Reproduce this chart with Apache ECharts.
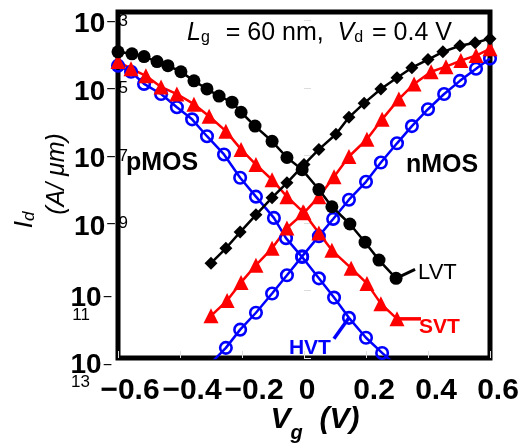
<!DOCTYPE html>
<html><head><meta charset="utf-8">
<script src="https://cdn.jsdelivr.net/npm/echarts@6/dist/echarts.min.js"></script>
<style>html,body{margin:0;padding:0;background:#fff}#c{width:526px;height:443px}</style>
</head><body><div id="c"></div>
<script>
// Bottom of the y axis, as log10(Id) in A/um; y values are plotted as decades above it
const LOG_FLOOR = -13;
const yTickExponents = [-13, -11, -9, -7, -5, -3];
const xTicks = [-0.6, -0.4, -0.2, 0, 0.2, 0.4, 0.6];

// pMOS (decreasing with Vg)
const pLvtVg = [-0.60,-0.555,-0.516,-0.474,-0.439,-0.397,-0.355,-0.313,-0.274,-0.232,-0.203,-0.158,-0.103,-0.055,-0.006,0.048,0.090,0.148,0.197,0.242,0.297];
const pLvtLogId = [-3.93,-3.99,-4.07,-4.22,-4.34,-4.52,-4.79,-5.03,-5.24,-5.42,-5.72,-6.13,-6.58,-7.06,-7.42,-8.01,-8.52,-9.03,-9.57,-10.10,-10.64];
const pSvtVg = [-0.60,-0.558,-0.510,-0.461,-0.410,-0.355,-0.306,-0.252,-0.203,-0.155,-0.103,-0.055,-0.003,0.048,0.090,0.152,0.203,0.248,0.300];
const pSvtLogId = [-4.22,-4.43,-4.64,-4.97,-5.18,-5.48,-5.84,-6.28,-6.82,-7.27,-7.72,-8.22,-8.67,-9.30,-9.81,-10.34,-10.79,-11.39,-11.84];
const pHvtVg = [-0.60,-0.558,-0.516,-0.461,-0.410,-0.361,-0.313,-0.258,-0.206,-0.155,-0.097,-0.058,-0.006,0.048,0.097,0.145,0.200,0.252,0.300];
const pHvtLogId = [-4.34,-4.52,-4.88,-5.18,-5.57,-5.93,-6.43,-6.97,-7.66,-8.22,-8.85,-9.45,-10.01,-10.64,-11.21,-11.81,-12.40,-12.85,-13.24];

// nMOS (increasing with Vg)
const nLvtVg = [-0.300,-0.252,-0.206,-0.155,-0.103,-0.055,0.0,0.048,0.103,0.145,0.194,0.248,0.300,0.348,0.400,0.448,0.503,0.552,0.600];
const nLvtLogId = [-10.19,-9.75,-9.27,-8.76,-8.25,-7.81,-7.27,-6.82,-6.37,-5.87,-5.45,-5.03,-4.70,-4.40,-4.16,-3.93,-3.75,-3.66,-3.54];
const nSvtVg = [-0.300,-0.248,-0.203,-0.155,-0.103,-0.055,0.0,0.048,0.097,0.145,0.203,0.252,0.306,0.355,0.410,0.458,0.506,0.555,0.600];
const nSvtLogId = [-11.75,-11.30,-10.76,-10.25,-9.75,-9.15,-8.70,-8.22,-7.63,-7.03,-6.52,-5.93,-5.33,-4.88,-4.52,-4.37,-4.19,-4.04,-3.84];
const nHvtVg = [-0.300,-0.252,-0.206,-0.155,-0.103,-0.055,-0.006,0.048,0.094,0.145,0.200,0.248,0.300,0.348,0.400,0.452,0.503,0.555,0.600];
const nHvtLogId = [-13.15,-12.70,-12.16,-11.66,-11.09,-10.55,-9.99,-9.39,-8.88,-8.31,-7.78,-7.21,-6.64,-6.13,-5.63,-5.18,-4.79,-4.43,-4.13];

const HVT_LABEL_INDEX = 15; // pMOS HVT point the HVT callout points at

const FONT = '"Liberation Sans", Arial, sans-serif';
const BLACK = '#000000', RED = '#ff0000', BLUE = '#0000ff';

const toXY = (vg, logId) => vg.map((v, i) => [v, +(logId[i] - LOG_FLOOR).toFixed(4)]);

function lineSeries(name, vg, logId, color, symbol, size, hollow) {
  return {
    name, type: 'line', data: toXY(vg, logId), clip: true,
    symbol, symbolSize: size, showAllSymbol: true,
    lineStyle: { color, width: 2.5 },
    itemStyle: hollow ? { color: 'rgba(0,0,0,0)', borderColor: color, borderWidth: 2.6 }
                      : { color, borderWidth: 0 },
    emphasis: { disabled: true }, animation: false
  };
}

const chart = echarts.init(document.getElementById('c'), null, { renderer: 'canvas' });

const yMaxDecades = 10.25;
const TRANSPARENT = 'rgba(0,0,0,0)';
const option = {
  animation: false,
  backgroundColor: '#fff',
  title: {
    left: 182, top: 16,
    text: '{i|L}{s|g}{n|  = 60 nm,  }{i|V}{s|d}{n| = 0.4 V}',
    textStyle: {
      fontWeight: 'normal',
      rich: {
        i: { fontFamily: FONT, fontSize: 25, fontStyle: 'italic', fontWeight: 'normal', color: '#000' },
        n: { fontFamily: FONT, fontSize: 25, fontWeight: 'normal', color: '#000' },
        s: { fontFamily: FONT, fontSize: 16, fontWeight: 'normal', color: '#000', verticalAlign: 'bottom', padding: [0, 2, 0, 0] }
      }
    }
  },
  grid: { left: 118, right: 36, top: 12, bottom: 85, containLabel: false, outerBoundsMode: 'none',
          show: true, borderColor: '#000', borderWidth: 5, backgroundColor: 'transparent' },
  xAxis: {
    type: 'value', min: xTicks[0], max: xTicks[xTicks.length - 1], interval: 0.2,
    axisLine: { show: false }, splitLine: { show: false },
    axisTick: { inside: true, length: 7, lineStyle: { color: '#dddddd', width: 1 } },
    axisLabel: {
      margin: 18,
      formatter: v => {
        if (Math.abs(v) < 1e-9) return '{z|0}';
        return v < 0 ? '{n|\u2212' + Math.abs(v).toFixed(1) + '}' : '{p|' + v.toFixed(1) + '}';
      },
      rich: {
        n: { fontFamily: FONT, fontSize: 30, fontWeight: 'bold', color: '#000', padding: [0, 0, 0, 24] },
        z: { fontFamily: FONT, fontSize: 30, fontWeight: 'bold', color: '#000', padding: [0, 0, 0, 6] },
        p: { fontFamily: FONT, fontSize: 30, fontWeight: 'bold', color: '#000', padding: [0, 0, 0, 16] }
      }
    },
    name: '{i|V}{g|g}{i|  (V)}', nameLocation: 'middle', nameGap: 47, nameMoveOverlap: false,
    nameTextStyle: {
      rich: {
        i: { fontFamily: FONT, fontSize: 30, fontStyle: 'italic', fontWeight: 'bold', color: '#000' },
        g: { fontFamily: FONT, fontSize: 20, fontStyle: 'italic', fontWeight: 'bold', color: '#000', verticalAlign: 'bottom', padding: [0, 0, -8, 0] }
      },
      padding: [0, 0, 0, 22]
    }
  },
  yAxis: {
    type: 'value', min: 0, max: yMaxDecades, interval: 2,
    axisLine: { show: false }, splitLine: { show: false },
    axisTick: { inside: true, length: 7, lineStyle: { color: '#dddddd', width: 1 } },
    axisLabel: {
      margin: -10, showMaxLabel: false,
      formatter: v => {
        if (Math.abs(v - Math.round(v)) > 1e-6) return '';
        const e = Math.round(v + LOG_FLOOR);
        if (yTickExponents.indexOf(e) < 0) return '';
        if (e <= -10) return '{gap2|.}\n{b2|10}{s2|\u2212}\n{e2|' + Math.abs(e) + '}';
        return '{gap|.}\n{b|10}{s|\u2212}{e|' + Math.abs(e) + '}';
      },
      rich: {
        gap: { fontSize: 4, lineHeight: 8, color: TRANSPARENT },
        b: { fontFamily: FONT, fontSize: 28, fontWeight: 'bold', color: '#000', lineHeight: 30 },
        s: { fontFamily: FONT, fontSize: 16, color: '#000', verticalAlign: 'top', padding: [5, 0, 0, 1] },
        e: { fontFamily: FONT, fontSize: 17, color: '#000', verticalAlign: 'top', padding: [3, 0, 0, 3] },
        gap2: { fontSize: 4, lineHeight: 33, color: TRANSPARENT },
        b2: { fontFamily: FONT, fontSize: 28, fontWeight: 'bold', color: '#000', lineHeight: 16 },
        s2: { fontFamily: FONT, fontSize: 16, color: '#000', lineHeight: 10, verticalAlign: 'top', padding: [0, 16, 0, 1] },
        e2: { fontFamily: FONT, fontSize: 17, color: '#000', lineHeight: 18, padding: [0, 38, 0, 0] }
      }
    }
  },
  series: [
    lineSeries('pMOS HVT', pHvtVg, pHvtLogId, BLUE, 'circle', 11.5, true),
    lineSeries('nMOS HVT', nHvtVg, nHvtLogId, BLUE, 'circle', 11.5, true),
    lineSeries('pMOS SVT', pSvtVg, pSvtLogId, RED, 'triangle', 15, false),
    lineSeries('nMOS SVT', nSvtVg, nSvtLogId, RED, 'triangle', 15, false),
    lineSeries('pMOS LVT', pLvtVg, pLvtLogId, BLACK, 'circle', 13, false),
    lineSeries('nMOS LVT', nLvtVg, nLvtLogId, BLACK, 'diamond', [13, 13], false)
  ]
};
chart.setOption(option);

// Callouts attached to data points
const toPx = (vg, logId) => chart.convertToPixel({ gridIndex: 0 }, [vg, logId - LOG_FLOOR]);
const lvtP = toPx(pLvtVg[pLvtVg.length - 1], pLvtLogId[pLvtLogId.length - 1]);
const svtP = toPx(pSvtVg[pSvtVg.length - 1], pSvtLogId[pSvtLogId.length - 1]);
const hvtP = toPx(pHvtVg[HVT_LABEL_INDEX], pHvtLogId[HVT_LABEL_INDEX]);

chart.setOption({
  graphic: [
    { type: 'line', z: 1, shape: { x1: lvtP[0], y1: lvtP[1], x2: lvtP[0] + 19, y2: lvtP[1] - 9 }, style: { stroke: BLACK, lineWidth: 3 } },
    { type: 'text', z: 1, x: lvtP[0] + 22, y: lvtP[1] - 5, style: { text: 'LVT', font: '22px ' + FONT, fill: BLACK, textAlign: 'left', textVerticalAlign: 'middle' } },
    { type: 'line', z: 1, shape: { x1: svtP[0], y1: svtP[1], x2: svtP[0] + 24, y2: svtP[1] }, style: { stroke: RED, lineWidth: 3.5 } },
    { type: 'text', z: 1, x: svtP[0] + 22, y: svtP[1] + 8, style: { text: 'SVT', font: 'bold 21px ' + FONT, fill: RED, textAlign: 'left', textVerticalAlign: 'middle' } },
    { type: 'line', z: 1, shape: { x1: hvtP[0], y1: hvtP[1], x2: hvtP[0] - 15, y2: hvtP[1] + 21 }, style: { stroke: BLUE, lineWidth: 3.5 } },
    { type: 'text', z: 1, x: hvtP[0] - 18, y: hvtP[1] + 30, style: { text: 'HVT', font: 'bold 21px ' + FONT, fill: BLUE, textAlign: 'right', textVerticalAlign: 'middle' } },
    { type: 'text', z: 1, x: 126, y: 163, style: { text: 'pMOS', font: 'bold 25px ' + FONT, fill: BLACK, textAlign: 'left', textVerticalAlign: 'middle' } },
    { type: 'text', z: 1, x: 406, y: 165, style: { text: 'nMOS', font: 'bold 25px ' + FONT, fill: BLACK, textAlign: 'left', textVerticalAlign: 'middle' } },
    { type: 'text', z: 1, x: 25, y: 220, rotation: Math.PI / 2,
      style: { text: '{i|I}{d|d}', textAlign: 'center', textVerticalAlign: 'middle',
        rich: { i: { fontFamily: FONT, fontSize: 26, fontStyle: 'italic', fill: '#000' },
                d: { fontFamily: FONT, fontSize: 17, fontStyle: 'italic', fill: '#000', verticalAlign: 'bottom' } } } },
    { type: 'text', z: 1, x: 57, y: 174, rotation: Math.PI / 2,
      style: { text: '(A/ \u03bcm)', font: 'italic 25px ' + FONT, fill: '#000', textAlign: 'center', textVerticalAlign: 'middle' } }
  ]
});
</script>
</body></html>
